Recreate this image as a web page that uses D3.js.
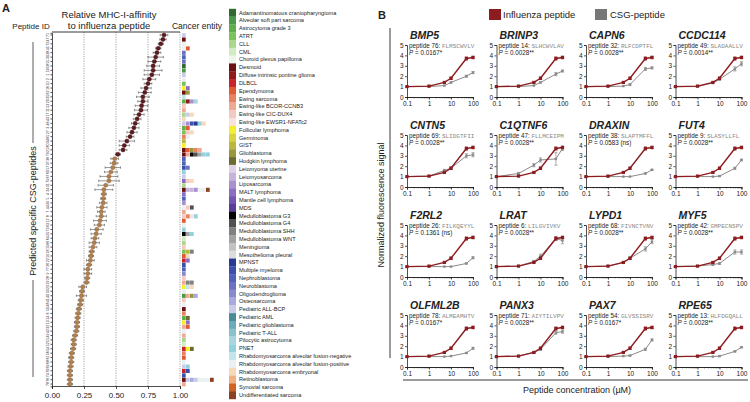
<!DOCTYPE html>
<html lang="en">
<head>
<meta charset="UTF-8">
<title>CSG peptides</title>
<script src="https://d3js.org/d3.v7.min.js"></script>
<style>
  body { margin: 0; background: #fff; font-family: "Liberation Sans", Arial, sans-serif; }
  svg text { fill: #222; }
  .mono { font-family: "Liberation Mono", "DejaVu Sans Mono", monospace; fill: #888; }
  .axis path, .axis line { stroke: #222; stroke-width: 0.8; }
</style>
</head>
<body>
<svg id="fig" width="750" height="402"></svg>
<script>
// ---------- panel A data ----------
var peptideIds = [71,47,72,45,38,30,55,58,59,1,
  2,10,16,62,35,20,53,11,17,43,
  46,3,27,65,34,80,21,79,36,37,
  57,60,67,75,31,24,4,5,39,44,
  7,8,12,63,73,25,64,66,15,18,
  19,22,26,77,9,28,29,23,33,40,
  41,48,50,6,14,13,32,42,49,51,
  52,54,56,61,68,69,70,74,76,78];
var affinity = [0.875,0.867,0.85,0.83,0.82,0.81,0.80,0.79,0.79,0.78,
  0.76,0.75,0.735,0.725,0.71,0.71,0.70,0.695,0.68,0.665,
  0.65,0.64,0.625,0.61,0.585,0.565,0.555,0.515,0.49,0.485,
  0.475,0.46,0.445,0.445,0.42,0.405,0.405,0.40,0.40,0.39,
  0.385,0.385,0.375,0.37,0.35,0.345,0.335,0.33,0.32,0.31,
  0.305,0.30,0.29,0.28,0.28,0.275,0.27,0.24,0.235,0.23,
  0.225,0.22,0.21,0.205,0.20,0.195,0.195,0.19,0.18,0.17,
  0.17,0.165,0.155,0.15,0.15,0.145,0.14,0.14,0.14,0.14];
var affinityErr = [0.03,0.025,0.02,0.02,0.03,0.06,0.05,0.05,0.07,0.06,
  0.05,0.03,0.04,0.05,0.05,0.04,0.05,0.05,0.04,0.03,
  0.03,0.04,0.04,0.03,0.06,0.04,0.03,0.02,0.03,0.03,
  0.06,0.05,0.07,0.08,0.06,0.07,0.02,0.02,0.03,0.04,
  0.03,0.04,0.05,0.04,0.05,0.04,0.03,0.04,0.03,0.02,
  0.02,0.03,0.02,0.03,0.03,0.02,0.02,0.03,0.02,0.04,
  0.02,0.02,0.02,0.02,0.02,0.02,0.02,0.02,0.02,0.02,
  0.02,0.02,0.02,0.02,0.02,0.02,0.02,0.02,0.02,0.02];
var affinityTicks = [0, 0.25, 0.5, 0.75, 1];

var entityNames = ["Adamantinomatous craniopharyngioma","Alveolar soft part sarcoma","Astrocytoma grade 3","ATRT","CLL","CML","Choroid plexus papilloma",
  "Desmoid","Diffuse intrinsic pontine glioma","DLBCL","Ependymoma","Ewing sarcoma","Ewing-like BCOR-CCNB3","Ewing-like CIC-DUX4","Ewing-like EWSR1-NFATc2",
  "Follicular lymphoma","Germinoma","GIST","Glioblastoma","Hodgkin lymphoma",
  "Leiomyoma uterine","Leiomyosarcoma","Liposarcoma","MALT lymphoma","Mantle cell lymphoma","MDS",
  "Medulloblastoma G3","Medulloblastoma G4","Medulloblastoma SHH","Medulloblastoma WNT","Meningioma","Mesothelioma pleural",
  "MPNST","Multiple myeloma","Nephroblastoma","Neuroblastoma","Oligodendroglioma","Osteosarcoma","Pediatric ALL-BCP",
  "Pediatric AML","Pediatric glioblastoma","Pediatric T-ALL","Pilocytic astrocytoma","PNET","Rhabdomyosarcoma alveolar fusion-negative","Rhabdomyosarcoma alveolar fusion-positive",
  "Rhabdomyosarcoma embryonal","Retinoblastoma","Synovial sarcoma","Undifferentiated sarcoma"];
var entityColors = ["#2f6a31","#4b9a49","#5fae4b","#7cc25c","#a9d88d","#d2ebc3","#eef6e9",
  "#6a1212","#8f1c1d","#c8222a","#e05b32","#e88263","#eda993","#f3cac2","#f8e2de",
  "#f4ef2e","#d8d23f","#b9b83a","#99993b","#6b6b31",
  "#ddd2e9","#c5b5dd","#a991cd","#8d6dc1","#7555b1","#5b3b9b",
  "#050505","#515151","#818181","#a2a2a2","#c2c2c2","#dddddd",
  "#283a92","#3b51a9","#5162b9","#6b72c1","#8989cd","#a9a9dd","#cacaea",
  "#4b8b99","#6babbc","#89c1cd","#a9d5e1","#92d1dd","#c2e5eb","#ebf0f0",
  "#f6d9b9","#efb182","#d16222","#8b4121"];
// entities (index into entityNames) listed per peptide row
var entityRows = [[38],[7],[45],[45,10],[35],[34],[35],[0],[1],[38],
  [45],[3],[15,23],[7,18],[44],[2,8,22,42],[13],[12],[4,38,46],[46],
  [38,22,33,32,43,46],[2,10],[3,13,46],[11,45],[17],[15],[7,10,18,11,12],[7,12,26,27,29,43,43],[34],[34],
  [33,35],[43],[38],[23,13,46],[4],[7,21,21,22,45,45,49],[23],[34],[22],[45,13,27],
  [12],[13,11,14,43],[10],[45],[43],[26,29,43],[5],[4],[13],[3,17,28],
  [10,46],[9,23],[33],[34],[36],[13],[12,28,28],[15,44,46],[45],[1,12,18,37],
  [13],[45],[7],[11],[2,19],[15,23],[12,10],[45],[12],[4],
  [5],[9,15,19],[11],[10],[45],[38,43],[9,33],[33],[7,38,37,38,45,45,45,49],[12]];

// ---------- panel B data ----------
var geneNames = ["BMP5","BRINP3","CAPN6","CCDC114","CNTN5","C1QTNF6","DRAXIN","FUT4",
  "F2RL2","LRAT","LYPD1","MYF5","OLFML2B","PANX3","PAX7","RPE65"];
var peptideNums = [76,14,32,49,69,47,38,9,26,6,68,42,78,71,54,13];
var sequences = ["FLMSCWVLV","SLHCWVLAV","RLFCDPTFL","SLADAALLV","SLIDGTFII","FLLMCEIPM","SLAPTMFFL","SLASYLLFL",
  "FILKQEYYL","LILGVIVKV","FIVNCTVNV","GMPECNSPV","ALMEAMHTV","AIYTILVPV","GLVSSISRV","HLFDGQALL"];
var pValues = ["0.0167*","0.0028**","0.0028**","0.0014**","0.0028**","0.0028**","0.0583 (ns)","0.0028**",
  "0.1361 (ns)","0.0028**","0.0028**","0.0028**","0.0167*","0.0028**","0.0167*","0.0028**"];
var concentrations = [0.1, 1, 5, 10, 50, 100];
var influenzaMean = [1.0, 1.05, 1.4, 1.8, 3.7, 3.8];
var influenzaErr = [0, 0.03, 0.05, 0.12, 0.15, 0.12];
var csgMeans = [[1,1,1.1,1.4,2.0,2.35],[1,1,1.1,1.4,2.2,2.5],[1,1,1.05,1.2,2.7,2.8],[1,1,1.35,1.7,2.7,3.2],
  [1,1.05,1.6,1.8,3.0,3.1],[1,1.3,2.1,2.6,2.7,3.7],[1,1,1,1,1.3,1.65],[1,1,1,1.05,1.8,2.6],
  [1,1,1,1,1.3,1.85],[1,1.05,1.5,2.0,3.7,3.5],[1,1.05,1.4,1.8,2.7,3.4],[1,1.05,1.2,1.3,2.4,2.4],
  [1,1,1,1.05,1.35,1.8],[1,1.05,1.4,1.7,3.3,3.4],[1,1,1.05,1.1,1.7,2.6],[1,1,1,1.05,1.5,1.9]];
var csgErr = [[0,0,0,0.05,0.1,0.1],[0,0,0,0.05,0.15,0.1],[0,0,0,0.1,0.15,0.1],[0,0,0,0.1,0.2,0.2],
  [0,0,0.1,0.1,0.2,0.2],[0,0.1,0.15,0.2,0.6,0.2],[0,0,0,0,0.05,0.05],[0,0,0,0.05,0.1,0.08],
  [0,0,0,0,0.05,0.1],[0,0,0.1,0.2,0.2,0.3],[0,0,0.05,0.1,0.2,0.2],[0,0,0.1,0.1,0.2,0.2],
  [0,0,0,0,0.05,0.1],[0,0,0.05,0.1,0.15,0.15],[0,0,0,0.05,0.1,0.1],[0,0,0,0.05,0.05,0.05]];
var yTicksB = [0, 1, 2, 3, 4, 5];
var xTicksB = [0.1, 1, 10, 100];

var svg = d3.select("#fig");
var red = "#8c1c1f", grey = "#8a8a8a";

// ================= panel A =================
var gA = svg.append("g");
gA.append("text").attr("x", 2).attr("y", 12).attr("font-size", 11).attr("font-weight", "bold").text("A");
gA.append("text").attr("x", 109).attr("y", 18).attr("text-anchor", "middle").attr("font-size", 9.5).text("Relative MHC-I-affinity");
gA.append("text").attr("x", 109).attr("y", 29).attr("text-anchor", "middle").attr("font-size", 9.5).text("to influenza peptide");
gA.append("text").attr("x", 31).attr("y", 29).attr("text-anchor", "middle").attr("font-size", 8).text("Peptide ID");
gA.append("text").attr("x", 197).attr("y", 29).attr("text-anchor", "middle").attr("font-size", 8.5).text("Cancer entity");

var x = d3.scaleLinear().domain([0, 1]).range([52, 180]);
var y = d3.scaleBand().domain(peptideIds).range([32.8, 386.3]);
function yc(id) { return y(id) + y.bandwidth() / 2; }

gA.selectAll(".grid").data(affinityTicks.slice(1)).join("line")
  .attr("x1", d => x(d)).attr("x2", d => x(d)).attr("y1", 32).attr("y2", 386)
  .attr("stroke", "#666").attr("stroke-width", 0.6).attr("stroke-dasharray", "1.2,1.2");
gA.append("line").attr("x1", 52).attr("x2", 180).attr("y1", 32).attr("y2", 32)
  .attr("stroke", "#222").attr("stroke-width", 0.9);

var xAxA = gA.append("g").attr("class", "axis").attr("transform", "translate(0,386)")
  .call(d3.axisBottom(x).tickValues(affinityTicks).tickFormat(d3.format(".2f")).tickSize(3));
xAxA.selectAll("text").attr("font-size", 8).attr("font-family", "Liberation Sans, Arial, sans-serif");

var yAxA = gA.append("g").attr("class", "axis").attr("transform", "translate(52,0)")
  .call(d3.axisLeft(y).tickSize(1.5));
yAxA.selectAll("text").attr("x", 0).attr("dy", 0).attr("text-anchor", "middle")
  .attr("transform", "translate(-2.6,0) rotate(-90)")
  .attr("font-size", 3.6).attr("fill", "#555").attr("font-family", "Liberation Sans, Arial, sans-serif");

// side label with broken line
gA.append("line").attr("x1", 33).attr("x2", 33).attr("y1", 42).attr("y2", 143).attr("stroke", "#333").attr("stroke-width", 0.8);
gA.append("line").attr("x1", 33).attr("x2", 33).attr("y1", 280).attr("y2", 377).attr("stroke", "#333").attr("stroke-width", 0.8);
gA.append("text").attr("transform", "translate(36,211) rotate(-90)").attr("text-anchor", "middle")
  .attr("font-size", 9).text("Predicted specific CSG-peptides");

var rows = peptideIds.map(function (id, i) {
  return { id: id, v: affinity[i], e: affinityErr[i], ents: entityRows[i] };
});
var eb = gA.append("g").attr("stroke", "#333").attr("stroke-width", 0.5);
rows.forEach(function (d) {
  var cy = yc(d.id);
  eb.append("line").attr("x1", x(d.v - d.e)).attr("x2", x(d.v + d.e)).attr("y1", cy).attr("y2", cy);
  eb.append("line").attr("x1", x(d.v - d.e)).attr("x2", x(d.v - d.e)).attr("y1", cy - 1.2).attr("y2", cy + 1.2);
  eb.append("line").attr("x1", x(d.v + d.e)).attr("x2", x(d.v + d.e)).attr("y1", cy - 1.2).attr("y2", cy + 1.2);
});
gA.selectAll(".pt").data(rows).join("circle")
  .attr("cx", d => x(d.v)).attr("cy", d => yc(d.id)).attr("r", 2.1)
  .attr("fill", d => d.v > 0.5 ? "#5e1b20" : "#b3804c")
  .attr("stroke", d => d.v > 0.5 ? "#3a1012" : "#7a5330").attr("stroke-width", 0.4);

// heat map of cancer entities
var hx = d3.scaleBand().domain(d3.range(8)).range([182, 214]);
rows.forEach(function (d) {
  gA.selectAll(null).data(d.ents).join("rect")
    .attr("x", (k, j) => hx(j)).attr("y", y(d.id) + 0.3)
    .attr("width", hx.bandwidth() - 0.3).attr("height", y.bandwidth() - 0.3)
    .attr("fill", k => entityColors[k]);
});

// legend
var ly = d3.scaleBand().domain(entityNames).range([8.8, 399]);
var leg = gA.append("g");
leg.selectAll("rect").data(entityNames).join("rect")
  .attr("x", 229).attr("y", d => ly(d)).attr("width", 7).attr("height", ly.bandwidth() + 0.2)
  .attr("fill", (d, i) => entityColors[i]);
leg.selectAll("text").data(entityNames).join("text")
  .attr("x", 239).attr("y", d => ly(d) + ly.bandwidth() / 2).attr("dy", "0.35em")
  .attr("font-size", 5.6).attr("fill", "#333").text(d => d);

// ================= panel B =================
var gB = svg.append("g");
gB.append("text").attr("x", 378).attr("y", 19).attr("font-size", 11).attr("font-weight", "bold").text("B");
gB.append("rect").attr("x", 489).attr("y", 9).attr("width", 12).attr("height", 11).attr("fill", red);
gB.append("text").attr("x", 503).attr("y", 18).attr("font-size", 9.5).text("Influenza peptide");
gB.append("rect").attr("x", 595).attr("y", 9).attr("width", 12).attr("height", 11).attr("fill", "#777");
gB.append("text").attr("x", 610).attr("y", 18).attr("font-size", 9.5).text("CSG-peptide");

gB.append("line").attr("x1", 390).attr("x2", 390).attr("y1", 28).attr("y2", 358).attr("stroke", "#222").attr("stroke-width", 0.9);
gB.append("text").attr("transform", "translate(384,205) rotate(-90)").attr("text-anchor", "middle")
  .attr("font-size", 9).text("Normalized fluorescence signal");
gB.append("line").attr("x1", 403).attr("x2", 748).attr("y1", 380).attr("y2", 380).attr("stroke", "#222").attr("stroke-width", 0.9);
gB.append("text").attr("x", 577).attr("y", 393).attr("text-anchor", "middle")
  .attr("font-size", 9).text("Peptide concentration (\u00b5M)");

geneNames.forEach(function (gene, i) {
  var c = i % 4, r = Math.floor(i / 4);
  var x0 = 407 + 89.5 * c, y5 = 45 + 90 * r, y0 = y5 + 52;
  var xs = d3.scaleLog().domain([0.1, 100]).range([x0, x0 + 66]);
  var ys = d3.scaleLinear().domain([0, 5]).range([y0, y5]);
  var g = gB.append("g");

  g.append("text").attr("x", x0 + 3).attr("y", y5 - 6).attr("font-size", 10.5)
    .attr("font-style", "italic").attr("font-weight", "bold").text(gene);

  var ya = g.append("g").attr("class", "axis").attr("transform", "translate(" + x0 + ",0)")
    .call(d3.axisLeft(ys).tickValues(yTicksB).tickFormat(d3.format("d")).tickSize(2).tickPadding(1.5));
  ya.selectAll("text").attr("font-size", 6.5).attr("font-family", "Liberation Sans, Arial, sans-serif");
  var minor = xs.ticks().filter(t => xTicksB.indexOf(t) < 0);
  g.append("g").attr("class", "axis").attr("transform", "translate(0," + y0 + ")")
    .call(d3.axisBottom(xs).tickValues(minor).tickSize(1.3).tickFormat(""));
  var xa = g.append("g").attr("class", "axis").attr("transform", "translate(0," + y0 + ")")
    .call(d3.axisBottom(xs).tickValues(xTicksB).tickSize(2.5).tickPadding(1.5).tickFormat(d => String(d)));
  xa.selectAll("text").attr("font-size", 6.5).attr("font-family", "Liberation Sans, Arial, sans-serif");

  var t1 = g.append("text").attr("x", x0 + 2).attr("y", y5 + 3).attr("font-size", 6.3);
  t1.append("tspan").text("peptide " + peptideNums[i] + ": ");
  t1.append("tspan").attr("class", "mono").attr("font-size", 6).text(sequences[i]);
  var t2 = g.append("text").attr("x", x0 + 2).attr("y", y5 + 10).attr("font-size", 6.3);
  t2.append("tspan").attr("font-style", "italic").text("P");
  t2.append("tspan").text(" = " + pValues[i]);

  var line = d3.line().x(d => xs(d[0])).y(d => ys(d[1]));
  function series(means, errs, col, sw, sz) {
    var pts = concentrations.map((cc, k) => [cc, means[k], errs[k]]);
    g.append("path").datum(pts).attr("d", line).attr("fill", "none").attr("stroke", col).attr("stroke-width", sw);
    pts.filter(p => p[2] > 0).forEach(function (p) {
      var px = xs(p[0]);
      g.append("path").attr("d", "M" + (px - 1.6) + "," + ys(p[1] + p[2]) + "h3.2M" + px + "," + ys(p[1] + p[2]) +
        "V" + ys(p[1] - p[2]) + "M" + (px - 1.6) + "," + ys(p[1] - p[2]) + "h3.2")
        .attr("stroke", col).attr("stroke-width", 0.7).attr("fill", "none");
    });
    g.selectAll(null).data(pts).join("rect")
      .attr("x", p => xs(p[0]) - sz / 2).attr("y", p => ys(p[1]) - sz / 2)
      .attr("width", sz).attr("height", sz).attr("fill", col);
  }
  series(csgMeans[i], csgErr[i], grey, 1, 2.4);
  series(influenzaMean, influenzaErr, red, 1.4, 3.2);
});
</script>
</body>
</html>
